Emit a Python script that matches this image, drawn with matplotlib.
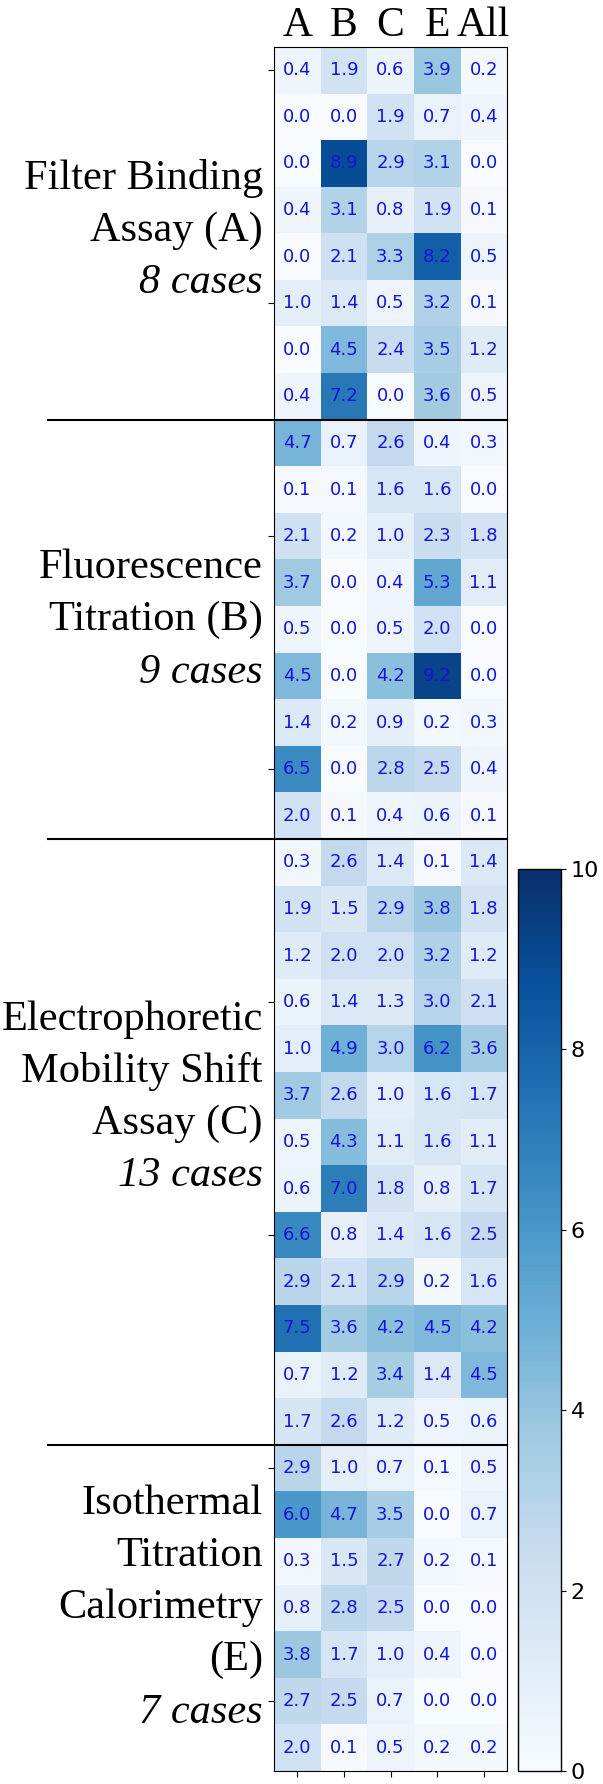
import numpy as np
import matplotlib
matplotlib.use('Agg')
import matplotlib.pyplot as plt

COLUMNS = ['A', 'B', 'C', 'E', 'All']

# one block of rows per assay group
GROUP_A = [
    [0.4, 1.9, 0.6, 3.9, 0.2],
    [0.0, 0.0, 1.9, 0.7, 0.4],
    [0.0, 8.9, 2.9, 3.1, 0.0],
    [0.4, 3.1, 0.8, 1.9, 0.1],
    [0.0, 2.1, 3.3, 8.2, 0.5],
    [1.0, 1.4, 0.5, 3.2, 0.1],
    [0.0, 4.5, 2.4, 3.5, 1.2],
    [0.4, 7.2, 0.0, 3.6, 0.5],
]
GROUP_B = [
    [4.7, 0.7, 2.6, 0.4, 0.3],
    [0.1, 0.1, 1.6, 1.6, 0.0],
    [2.1, 0.2, 1.0, 2.3, 1.8],
    [3.7, 0.0, 0.4, 5.3, 1.1],
    [0.5, 0.0, 0.5, 2.0, 0.0],
    [4.5, 0.0, 4.2, 9.2, 0.0],
    [1.4, 0.2, 0.9, 0.2, 0.3],
    [6.5, 0.0, 2.8, 2.5, 0.4],
    [2.0, 0.1, 0.4, 0.6, 0.1],
]
GROUP_C = [
    [0.3, 2.6, 1.4, 0.1, 1.4],
    [1.9, 1.5, 2.9, 3.8, 1.8],
    [1.2, 2.0, 2.0, 3.2, 1.2],
    [0.6, 1.4, 1.3, 3.0, 2.1],
    [1.0, 4.9, 3.0, 6.2, 3.6],
    [3.7, 2.6, 1.0, 1.6, 1.7],
    [0.5, 4.3, 1.1, 1.6, 1.1],
    [0.6, 7.0, 1.8, 0.8, 1.7],
    [6.6, 0.8, 1.4, 1.6, 2.5],
    [2.9, 2.1, 2.9, 0.2, 1.6],
    [7.5, 3.6, 4.2, 4.5, 4.2],
    [0.7, 1.2, 3.4, 1.4, 4.5],
    [1.7, 2.6, 1.2, 0.5, 0.6],
]
GROUP_E = [
    [2.9, 1.0, 0.7, 0.1, 0.5],
    [6.0, 4.7, 3.5, 0.0, 0.7],
    [0.3, 1.5, 2.7, 0.2, 0.1],
    [0.8, 2.8, 2.5, 0.0, 0.0],
    [3.8, 1.7, 1.0, 0.4, 0.0],
    [2.7, 2.5, 0.7, 0.0, 0.0],
    [2.0, 0.1, 0.5, 0.2, 0.2],
]

GROUP_NAMES = [
    ['Filter Binding', 'Assay (A)'],
    ['Fluorescence', 'Titration (B)'],
    ['Electrophoretic', 'Mobility Shift', 'Assay (C)'],
    ['Isothermal', 'Titration', 'Calorimetry', '(E)'],
]
GROUP_CASES = ['8 cases', '9 cases', '13 cases', '7 cases']
# vertical centre of each label block, in row units
LABEL_CENTRES = [3.45, 11.8, 22.05, 33.0]

groups = [GROUP_A, GROUP_B, GROUP_C, GROUP_E]
data = np.array([row for g in groups for row in g])
n_rows, n_cols = data.shape

fig = plt.figure(figsize=(6.03, 17.84), dpi=100)
ax = fig.add_axes([274 / 603, 13 / 1784, 233 / 603, 1724 / 1784])
im = ax.imshow(data, cmap='Blues', vmin=0, vmax=10, aspect='auto')

for i in range(n_rows):
    for j in range(n_cols):
        ax.text(j, i, f'{data[i, j]:.1f}', ha='center', va='center',
                color='#1414d8', fontsize=13)

ax.set_xticks(range(n_cols))
ax.set_xticklabels([])
ax.set_yticks(range(0, n_rows, 5))
ax.set_yticklabels([])
ax.tick_params(length=4)

# column headers
for j, name in enumerate(COLUMNS):
    ax.text(j, -0.55, name, ha='center', va='bottom', fontsize=30,
            family='Liberation Serif')

# group separators, running out to the left under the labels
x_left = -0.5 - (274 - 48) / 46.6
boundary = 0
for g in groups[:-1]:
    boundary += len(g)
    ax.plot([x_left, n_cols - 0.5], [boundary - 0.5, boundary - 0.5],
            color='black', lw=1.5, clip_on=False)

# group labels
spacing = 1.12
for names, cases, centre in zip(GROUP_NAMES, GROUP_CASES, LABEL_CENTRES):
    lines = names + [cases]
    n = len(lines)
    for k, line in enumerate(lines):
        y = centre + (k - (n - 1) / 2) * spacing
        ax.text(-0.74, y, line, ha='right', va='center', fontsize=30.5,
                family='Liberation Serif',
                style='italic' if line == cases else 'normal',
                clip_on=False)

ax.set_xlim(-0.5, n_cols - 0.5)
ax.set_ylim(n_rows - 0.5, -0.5)

cax = fig.add_axes([518 / 603, 13 / 1784, 43 / 603, 902 / 1784])
cbar = fig.colorbar(im, cax=cax, ticks=[0, 2, 4, 6, 8, 10])
cbar.ax.tick_params(labelsize=16)
cbar.outline.set_linewidth(1.0)

plt.savefig('out.png', dpi=100)
